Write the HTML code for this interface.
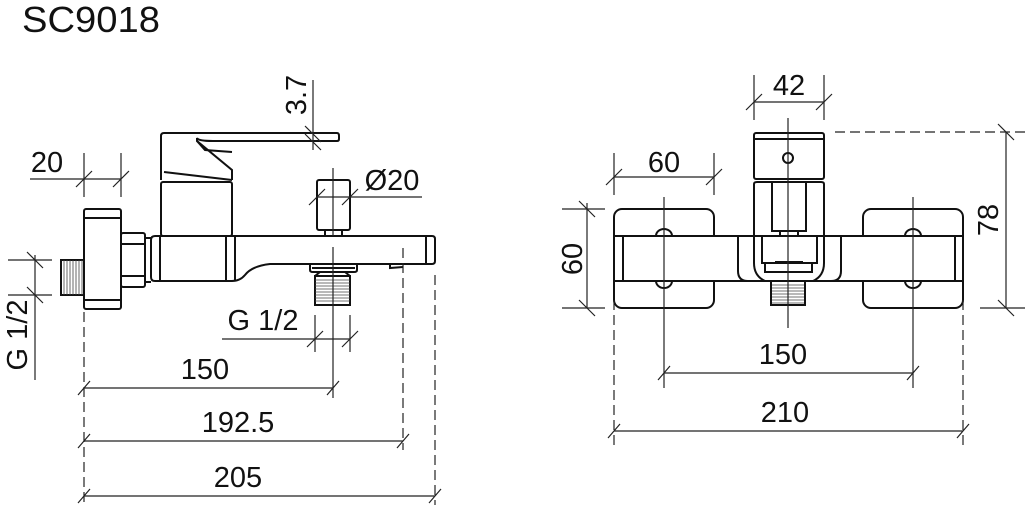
<!DOCTYPE html>
<html><head><meta charset="utf-8"><style>
html,body{margin:0;padding:0;background:#fff;}
svg{display:block;}
text{font-family:"Liberation Sans",sans-serif;fill:#111;}
</style></head><body>
<svg width="1025" height="515" viewBox="0 0 1025 515" xmlns="http://www.w3.org/2000/svg">
<text x="22" y="32" font-size="36" textLength="138" lengthAdjust="spacingAndGlyphs">SC9018</text>

<g stroke="#111" fill="none" stroke-width="2">
<!-- LEFT VIEW -->
<!-- handle -->
<path d="M161,180 L161,136 Q161,133 164,133 L337,133 Q339,133 339,136 L339,139 Q339,141 337,141 L213,141 Q198,141 197,138 L197,141 L232,170 L232,180"/>
<path d="M197,141 L205,150 L232,152"/>
<path d="M164,172 L232,180"/>
<rect x="161" y="182" width="71" height="54" rx="2"/>
<!-- body -->
<path d="M151,240 Q151,236 155,236 L432,236 Q435,236 435,239 L435,261 Q435,264 432,264 L270,264 Q252,266 245,275 Q240,281 232,281 L155,281 Q151,281 151,277 Z"/>
<line x1="160" y1="236" x2="160" y2="281"/>
<line x1="226" y1="236" x2="226" y2="281"/>
<line x1="235" y1="236" x2="235" y2="281"/>
<line x1="426" y1="236" x2="426" y2="264"/>
<path d="M390,264 L390,268 L403,267"/>
<!-- nut -->
<rect x="121" y="233" width="24" height="54" rx="2"/>
<line x1="121" y1="244" x2="145" y2="244"/>
<line x1="121" y1="276" x2="145" y2="276"/>
<line x1="145" y1="238" x2="151" y2="238"/>
<line x1="145" y1="282" x2="151" y2="282"/>
<!-- flange -->
<rect x="84" y="209" width="37" height="100" rx="2"/>
<line x1="84" y1="218" x2="121" y2="218"/>
<line x1="84" y1="300" x2="121" y2="300"/>
<!-- thread -->
<rect x="61" y="260" width="23" height="35"/>
<!-- diverter knob -->
<rect x="317" y="180" width="33" height="50" rx="2"/>
<rect x="325" y="230" width="17" height="6"/>
<!-- bottom outlet -->
<path d="M310,264 L310,270 Q310,272 313,272 L354,272 Q357,272 357,270 L357,264"/>
<line x1="312" y1="268" x2="355" y2="268"/>
<rect x="315" y="276" width="35" height="29"/>
<path d="M315,276 L320,272 M350,276 L345,272"/>
</g>
<!-- thread hatching -->
<g stroke="#444" stroke-width="0.8">
<line x1="64" y1="260" x2="64" y2="295"/><line x1="67" y1="260" x2="67" y2="295"/><line x1="70" y1="260" x2="70" y2="295"/><line x1="73" y1="260" x2="73" y2="295"/><line x1="76" y1="260" x2="76" y2="295"/><line x1="79" y1="260" x2="79" y2="295"/><line x1="82" y1="260" x2="82" y2="295"/>
<line x1="315" y1="280" x2="350" y2="280"/><line x1="315" y1="283" x2="350" y2="283"/><line x1="315" y1="286" x2="350" y2="286"/><line x1="315" y1="289" x2="350" y2="289"/><line x1="315" y1="292" x2="350" y2="292"/><line x1="315" y1="295" x2="350" y2="295"/><line x1="315" y1="298" x2="350" y2="298"/><line x1="315" y1="301" x2="350" y2="301"/>
<line x1="771" y1="285" x2="805" y2="285"/><line x1="771" y1="288" x2="805" y2="288"/><line x1="771" y1="291" x2="805" y2="291"/><line x1="771" y1="294" x2="805" y2="294"/><line x1="771" y1="297" x2="805" y2="297"/><line x1="771" y1="300" x2="805" y2="300"/><line x1="771" y1="303" x2="805" y2="303"/>
</g>

<!-- dims left -->
<g stroke="#222" stroke-width="1.2" fill="none">
<!-- dashed -->
<line x1="84" y1="312" x2="84" y2="505" stroke-dasharray="10,5"/>
<line x1="403" y1="248" x2="403" y2="450" stroke-dasharray="10,5"/>
<line x1="435" y1="275" x2="435" y2="505" stroke-dasharray="10,5"/>
<line x1="333" y1="247" x2="333" y2="398"/>
<!-- 150 / 192.5 / 205 -->
<line x1="84" y1="388" x2="333" y2="388"/>
<line x1="84" y1="441" x2="403" y2="441"/>
<line x1="84" y1="496" x2="435" y2="496"/>
<path d="M78,395 L90,381 M327,395 L339,381 M78,448 L90,434 M397,448 L409,434 M78,503 L90,489 M429,503 L441,489"/>
<!-- 20 -->
<line x1="84" y1="153" x2="84" y2="197"/><line x1="121" y1="153" x2="121" y2="197"/>
<line x1="30" y1="179" x2="121" y2="179"/>
<path d="M76,187 L92,171 M113,187 L129,171"/>
<!-- 3.7 -->
<line x1="313" y1="80" x2="313" y2="150"/>
<path d="M305,126 L321,142 M305,134 L321,150"/>
<!-- Ø20 -->
<line x1="333" y1="168" x2="333" y2="236"/>
<line x1="317" y1="197" x2="422" y2="197"/>
<path d="M309,205 L325,189 M342,205 L358,189"/>
<!-- G 1/2 bottom -->
<line x1="315" y1="315" x2="315" y2="352"/><line x1="350" y1="315" x2="350" y2="352"/>
<line x1="222" y1="339" x2="350" y2="339"/>
<path d="M307,347 L323,331 M342,347 L358,331"/>
<!-- G 1/2 left -->
<line x1="8" y1="260" x2="52" y2="260"/><line x1="8" y1="295" x2="52" y2="295"/>
<line x1="35" y1="255" x2="35" y2="380"/>
<path d="M27,252 L43,268 M27,287 L43,303"/>
</g>
<g font-size="29">
<text x="47" y="172" text-anchor="middle">20</text>
<text x="392" y="190" text-anchor="middle">Ø20</text>
<text x="263" y="330" text-anchor="middle">G 1/2</text>
<text x="205" y="379" text-anchor="middle">150</text>
<text x="238" y="432" text-anchor="middle">192.5</text>
<text x="238" y="487" text-anchor="middle">205</text>
<text transform="translate(306,95) rotate(-90)" text-anchor="middle">3.7</text>
<text transform="translate(27,335) rotate(-90)" text-anchor="middle">G 1/2</text>
</g>

<!-- RIGHT VIEW -->
<g stroke="#111" fill="none" stroke-width="2">
<rect x="754" y="133" width="70" height="46" rx="2"/>
<line x1="754" y1="139" x2="824" y2="139"/>
<circle cx="788" cy="158" r="5"/>
<path d="M754,236 L754,184 Q754,182 757,182 L821,182 Q824,182 824,184 L824,236"/>
<rect x="772" y="182" width="34" height="49"/>
<rect x="780" y="231" width="18" height="5"/>
<!-- plates -->
<rect x="614" y="209" width="100" height="99" rx="8"/>
<rect x="863" y="209" width="100" height="99" rx="8"/>
<!-- bar -->
<rect x="614" y="236" width="349" height="45" fill="#fff"/>
<line x1="623" y1="236" x2="623" y2="281"/>
<line x1="955" y1="236" x2="955" y2="281"/>
<path d="M738,236 L738,271 Q738,281 748,281"/>
<path d="M841,236 L841,271 Q841,281 831,281"/>
<path d="M754,236 L754,263 Q754,276 765,281"/>
<path d="M824,236 L824,263 Q824,276 813,281"/>
<path d="M762,236 L762,263 L817,263 L817,236"/>
<path d="M765,263 L765,272 L812,272 L812,263"/>
<line x1="775" y1="262" x2="803" y2="262"/>
<rect x="771" y="281" width="34" height="24"/>
<!-- bumps -->
<path d="M656,236 A8,7 0 0 1 672,236 M905,236 A8,7 0 0 1 921,236 M656,281 A8,7 0 0 0 672,281 M905,281 A8,7 0 0 0 921,281"/>
</g>
<g stroke="#222" stroke-width="1.2" fill="none">
<line x1="788" y1="118" x2="788" y2="328"/>
<line x1="664" y1="197" x2="664" y2="388"/>
<line x1="913" y1="197" x2="913" y2="388"/>
<line x1="614" y1="300" x2="614" y2="448" stroke-dasharray="10,5"/>
<line x1="963" y1="300" x2="963" y2="448" stroke-dasharray="10,5"/>
<line x1="835" y1="132" x2="1025" y2="132" stroke-dasharray="10,5"/>
<!-- 42 -->
<line x1="754" y1="75" x2="754" y2="120"/><line x1="824" y1="75" x2="824" y2="120"/>
<line x1="754" y1="102" x2="824" y2="102"/>
<path d="M746,110 L762,94 M816,110 L832,94"/>
<!-- 60 horiz -->
<line x1="614" y1="153" x2="614" y2="195"/><line x1="714" y1="153" x2="714" y2="195"/>
<line x1="614" y1="177" x2="714" y2="177"/>
<path d="M606,185 L622,169 M706,185 L722,169"/>
<!-- 60 vert -->
<line x1="562" y1="209" x2="605" y2="209"/><line x1="562" y1="308" x2="605" y2="308"/>
<line x1="587" y1="203" x2="587" y2="308"/>
<path d="M579,201 L595,217 M579,300 L595,316"/>
<!-- 78 -->
<line x1="980" y1="308" x2="1025" y2="308"/>
<line x1="1006" y1="132" x2="1006" y2="308"/>
<path d="M998,124 L1014,140 M998,300 L1014,316"/>
<!-- 150 / 210 -->
<line x1="664" y1="373" x2="913" y2="373"/>
<line x1="614" y1="431" x2="963" y2="431"/>
<path d="M658,380 L670,366 M907,380 L919,366 M608,438 L620,424 M957,438 L969,424"/>
</g>
<g font-size="29">
<text x="789" y="95" text-anchor="middle">42</text>
<text x="664" y="172" text-anchor="middle">60</text>
<text x="783" y="364" text-anchor="middle">150</text>
<text x="785" y="422" text-anchor="middle">210</text>
<text transform="translate(582,259) rotate(-90)" text-anchor="middle">60</text>
<text transform="translate(998,220) rotate(-90)" text-anchor="middle">78</text>
</g>
</svg>
</body></html>
